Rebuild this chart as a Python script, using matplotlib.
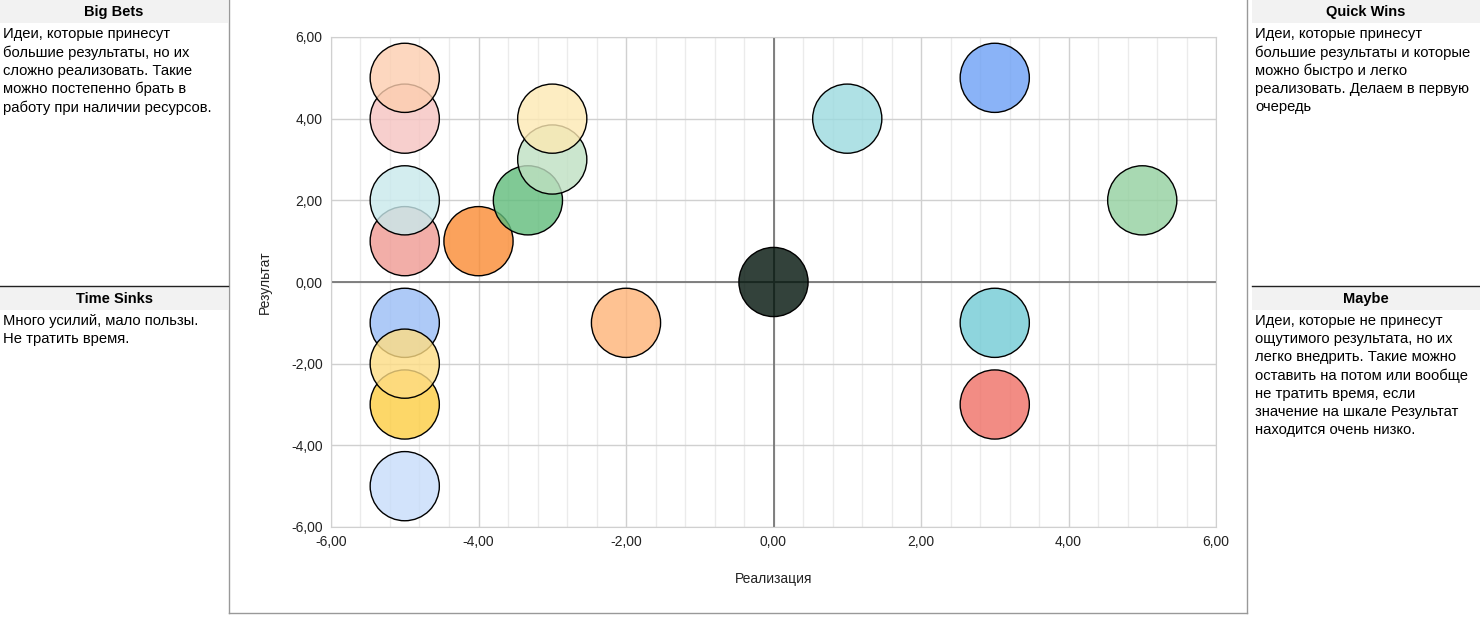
import matplotlib
matplotlib.use('Agg')
from matplotlib import pyplot as plt
from matplotlib.lines import Line2D
from matplotlib.patches import Rectangle
from matplotlib.ticker import FuncFormatter, MultipleLocator
import numpy as np

plt.rcParams['font.family'] = ['Liberation Sans', 'DejaVu Sans']

# данные пузырьков (порядок = порядок отрисовки)
realization = [-5, -5, -5, -5, -4, -3.33, -3, -3, -2, 0, 1, 3, 5, 3, 3, -5, -5, -5, -5]
result = [4, 5, 1, 2, 1, 2, 3, 4, -1, 0, 4, 5, 2, -1, -3, -1, -3, -2, -5]
colors = ['#F8CFCD', '#FDD8BF', '#F2AEA9', '#D3EDF0', '#FBA25C', '#80C995', '#CCE6CE',
          '#FDEDC2', '#FEC292', '#2F423B', '#AFE1E5', '#8AB3F7', '#A9D9B2', '#8ED5DD',
          '#F28C84', '#AECAF8', '#FDD768', '#FDE39C', '#D2E3FB']

quadrants = {
    'Big Bets': 'Идеи, которые принесут\nбольшие результаты, но их\nсложно реализовать. Такие\n'
                'можно постепенно брать в\nработу при наличии ресурсов.',
    'Quick Wins': 'Идеи, которые принесут\nбольшие результаты и которые\nможно быстро и легко\n'
                  'реализовать. Делаем в первую\nочередь',
    'Time Sinks': 'Много усилий, мало пользы.\nНе тратить время.',
    'Maybe': 'Идеи, которые не принесут\nощутимого результата, но их\nлегко внедрить. Такие можно\n'
             'оставить на потом или вообще\nне тратить время, если\nзначение на шкале Результат\n'
             'находится очень низко.',
}

W, H = 1480, 617
fig = plt.figure(figsize=(W / 100, H / 100), dpi=100)
fig.patch.set_facecolor('white')

ax = fig.add_axes([331 / W, 1 - 527 / H, (1216 - 331) / W, (527 - 37) / H])

# цвет с прозрачностью -> базовый цвет, чтобы итог совпал с картинкой
alpha = 0.8
rgb = np.array([matplotlib.colors.to_rgb(c) for c in colors])
base = np.clip(1 - (1 - rgb) / alpha, 0, 1)
fc = np.column_stack([base, np.full(len(base), alpha)])

ax.scatter(realization, result, s=2480, c=fc, edgecolors='black', linewidths=1.0, zorder=3)

ax.set_xlim(-6, 6)
ax.set_ylim(-6, 6)
ax.xaxis.set_major_locator(MultipleLocator(2))
ax.xaxis.set_minor_locator(MultipleLocator(0.4))
ax.yaxis.set_major_locator(MultipleLocator(2))
fmt = FuncFormatter(lambda v, p: ('%.2f' % v).replace('.', ',').replace('-0,00', '0,00'))
ax.xaxis.set_major_formatter(fmt)
ax.yaxis.set_major_formatter(fmt)
ax.grid(which='minor', axis='x', color='#EBEBEB', lw=1, zorder=0)
ax.grid(which='major', color='#D0D0D0', lw=1, zorder=0)
ax.axhline(0, color='#777777', lw=1.3, zorder=1)
ax.axvline(0, color='#777777', lw=1.3, zorder=1)
ax.set_axisbelow(True)
for s in ax.spines.values():
    s.set_color('#D0D0D0')
ax.tick_params(which='both', length=0, labelsize=10, colors='#222222', pad=6)
ax.set_xlabel('Реализация', fontsize=10, labelpad=16, color='#222222')
ax.set_ylabel('Результат', fontsize=10, labelpad=14, color='#222222')

# рамка диаграммы
for xy in [([229, 229], [0, 613]), ([1247, 1247], [0, 613]), ([229, 1247], [613, 613])]:
    fig.add_artist(Line2D(np.array(xy[0]) / W, 1 - np.array(xy[1]) / H, color='#999999', lw=1))

# боковые панели
panels = [('Big Bets', 0, 228, 0, False), ('Time Sinks', 0, 228, 287, True),
          ('Quick Wins', 1252, 1480, 0, False), ('Maybe', 1252, 1480, 287, True)]
for title, x0, x1, y0, top_line in panels:
    fig.add_artist(Rectangle((x0 / W, 1 - (y0 + 23) / H), (x1 - x0) / W, 23 / H,
                             facecolor='#F2F2F2', edgecolor='none'))
    if top_line:
        fig.add_artist(Line2D([x0 / W, x1 / W], [1 - (y0 - 1) / H] * 2, color='#222222', lw=1))
    fig.text((x0 + x1) / 2 / W, 1 - (y0 + 12) / H, title, ha='center', va='center',
             fontsize=10.5, fontweight='bold', color='black')
    fig.text((x0 + 3) / W, 1 - (y0 + 27) / H, quadrants[title], ha='left', va='top',
             fontsize=10.6, linespacing=1.37, color='black')

fig.savefig('out.png', dpi=100)
